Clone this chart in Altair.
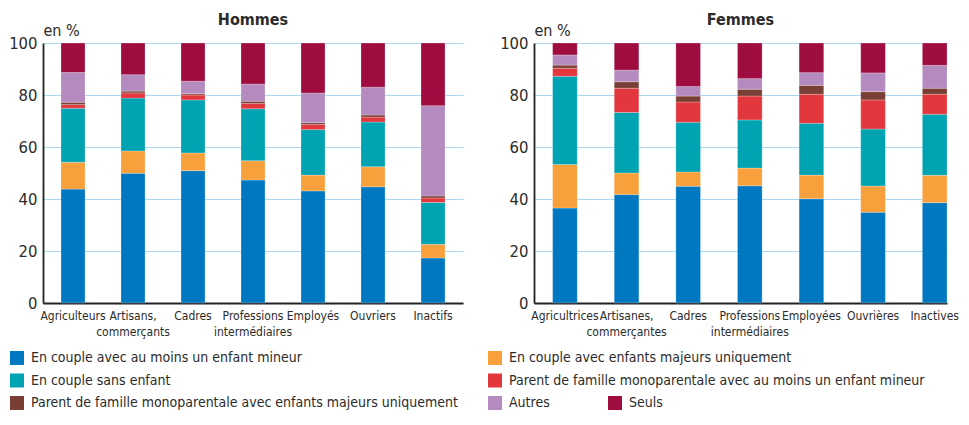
import altair as alt
import pandas as pd

FONT = "Liberation Sans Narrow, DejaVu Sans Condensed, DejaVu Sans, sans-serif"
TEXT = "#2b2b2b"

series = [
    "En couple avec au moins un enfant mineur",
    "En couple avec enfants majeurs uniquement",
    "En couple sans enfant",
    "Parent de famille monoparentale avec au moins un enfant mineur",
    "Parent de famille monoparentale avec enfants majeurs uniquement",
    "Autres",
    "Seuls",
]
colors = ["#0077C1", "#F8A03C", "#00A3B1", "#E3373E", "#7A3F34", "#B48ABF", "#9E0C40"]

hommes_cats = ["Agriculteurs", "Artisans,|commerçants", "Cadres", "Professions|intermédiaires",
               "Employés", "Ouvriers", "Inactifs"]
femmes_cats = ["Agricultrices", "Artisanes,|commerçantes", "Cadres", "Professions|intermédiaires",
               "Employées", "Ouvrières", "Inactives"]

# Hommes (in %)
h_mineur = [43.8, 49.9, 50.9, 47.3, 43.1, 44.7, 17.3]
h_majeurs = [10.3, 8.6, 6.8, 7.4, 6.1, 7.7, 5.3]
h_sans = [20.8, 20.3, 20.4, 20.0, 17.5, 17.2, 16.1]
h_mono_mineur = [1.4, 2.0, 1.9, 2.1, 2.0, 1.9, 1.7]
h_mono_majeurs = [0.9, 0.7, 0.5, 0.8, 0.7, 0.8, 0.8]
h_autres = [11.5, 6.3, 4.8, 6.6, 11.4, 10.7, 34.7]
h_seuls = [11.3, 12.2, 14.7, 15.8, 19.2, 17.0, 24.1]

# Femmes (in %)
f_mineur = [36.5, 41.7, 44.9, 45.1, 40.1, 34.9, 38.6]
f_majeurs = [16.8, 8.3, 5.5, 6.8, 9.1, 10.1, 10.5]
f_sans = [33.9, 23.3, 19.1, 18.5, 19.9, 21.9, 23.5]
f_mono_mineur = [3.1, 9.3, 7.8, 9.2, 11.2, 11.2, 7.7]
f_mono_majeurs = [1.2, 2.5, 2.3, 2.6, 3.4, 3.2, 2.3]
f_autres = [3.9, 4.5, 3.7, 4.1, 4.9, 7.2, 8.8]
f_seuls = [4.6, 10.4, 16.7, 13.7, 11.4, 11.5, 8.6]

y_ticks = [0, 20, 40, 60, 80, 100]

# legend layout: which series, in which panel, square centre x / row
leg_left_series = [0, 2, 4]
leg_left_sq = [-26, -26, -26]
leg_left_row = [0, 1, 2]
leg_right_series = [1, 3, 5, 6]
leg_right_sq = [-39, -39, -39, 81]
leg_right_row = [0, 1, 2, 2]
leg_y0 = 315
leg_gap = 22.5
leg_txt_dx = 14


def long_df(cats, cols):
    rows = []
    for k, (s, vals) in enumerate(zip(series, cols)):
        for c, v in zip(cats, vals):
            rows.append({"cat": c, "serie": s, "k": k, "v": v})
    return pd.DataFrame(rows)


df_h = long_df(hommes_cats, [h_mineur, h_majeurs, h_sans, h_mono_mineur, h_mono_majeurs, h_autres, h_seuls])
df_f = long_df(femmes_cats, [f_mineur, f_majeurs, f_sans, f_mono_mineur, f_mono_majeurs, f_autres, f_seuls])

color_scale = alt.Scale(domain=series, range=colors)


def legend_layers(idx, sqx, rows):
    ldf = pd.DataFrame({
        "serie": [series[i] for i in idx],
        "sx": sqx,
        "tx": [x + leg_txt_dx for x in sqx],
        "ly": [leg_y0 + r * leg_gap for r in rows],
    })
    sq = alt.Chart(ldf).mark_square(size=196, opacity=1).encode(
        x=alt.X("sx:Q", scale=None, axis=None),
        y=alt.Y("ly:Q", scale=None, axis=None),
        color=alt.Color("serie:N", scale=color_scale, legend=None),
    )
    tx = alt.Chart(ldf).mark_text(align="left", baseline="middle", fontSize=14,
                                  font=FONT, color=TEXT).encode(
        x=alt.X("tx:Q", scale=None, axis=None),
        y=alt.Y("ly:Q", scale=None, axis=None),
        text="serie:N",
    )
    return sq, tx


def panel(df, cats, title, width, pad_outer, align, leg):
    bars = alt.Chart(df).mark_bar(stroke="#ffffff", strokeWidth=0.4, strokeOpacity=0.6).encode(
        x=alt.X("cat:N", sort=cats,
                scale=alt.Scale(paddingInner=0.6, paddingOuter=pad_outer, align=align),
                axis=alt.Axis(title=None, labelAngle=0, labelExpr="split(datum.label, '|')",
                              ticks=False, grid=False, domainColor="#222222", domainWidth=2.2,
                              labelPadding=7, labelFontSize=12, labelLineHeight=16,
                              labelOverlap=False, labelColor=TEXT, labelFont=FONT)),
        y=alt.Y("v:Q", stack="zero",
                scale=alt.Scale(domain=[0, 100], nice=False),
                axis=alt.Axis(values=y_ticks, title="en %", titleAngle=0, titleX=0, titleY=-5,
                              titleAlign="left", titleBaseline="bottom", titleFontSize=16,
                              titleFontWeight="normal", titleColor=TEXT, titleFont=FONT,
                              ticks=False, grid=True, gridColor="#A9D9F2", gridWidth=1,
                              domainColor="#222222", domainWidth=1.8, labelPadding=6,
                              labelFontSize=16.5, labelColor=TEXT, labelFont=FONT)),
        color=alt.Color("serie:N", scale=color_scale, legend=None),
        order=alt.Order("k:Q", sort="ascending"),
    )
    sq, tx = leg
    return alt.layer(bars, sq, tx).resolve_scale(x="independent", y="independent").properties(
        width=width, height=260,
        title=alt.TitleParams(title, fontSize=16, fontWeight="bold", font=FONT, color=TEXT,
                              anchor="middle", frame="group", offset=-6),
    )


left = panel(df_h, hommes_cats, "Hommes", 420, 0.3, 0.5,
             legend_layers(leg_left_series, leg_left_sq, leg_left_row))
right = panel(df_f, femmes_cats, "Femmes", 413, 0.151, 1.0,
              legend_layers(leg_right_series, leg_right_sq, leg_right_row))

chart = alt.hconcat(left, right, spacing=25).properties(
    padding={"left": 0, "right": 0, "top": 4, "bottom": 0},
).configure(font=FONT).configure_view(stroke=None)

chart.save("out.html", embed_options={"renderer": "svg", "actions": False})
